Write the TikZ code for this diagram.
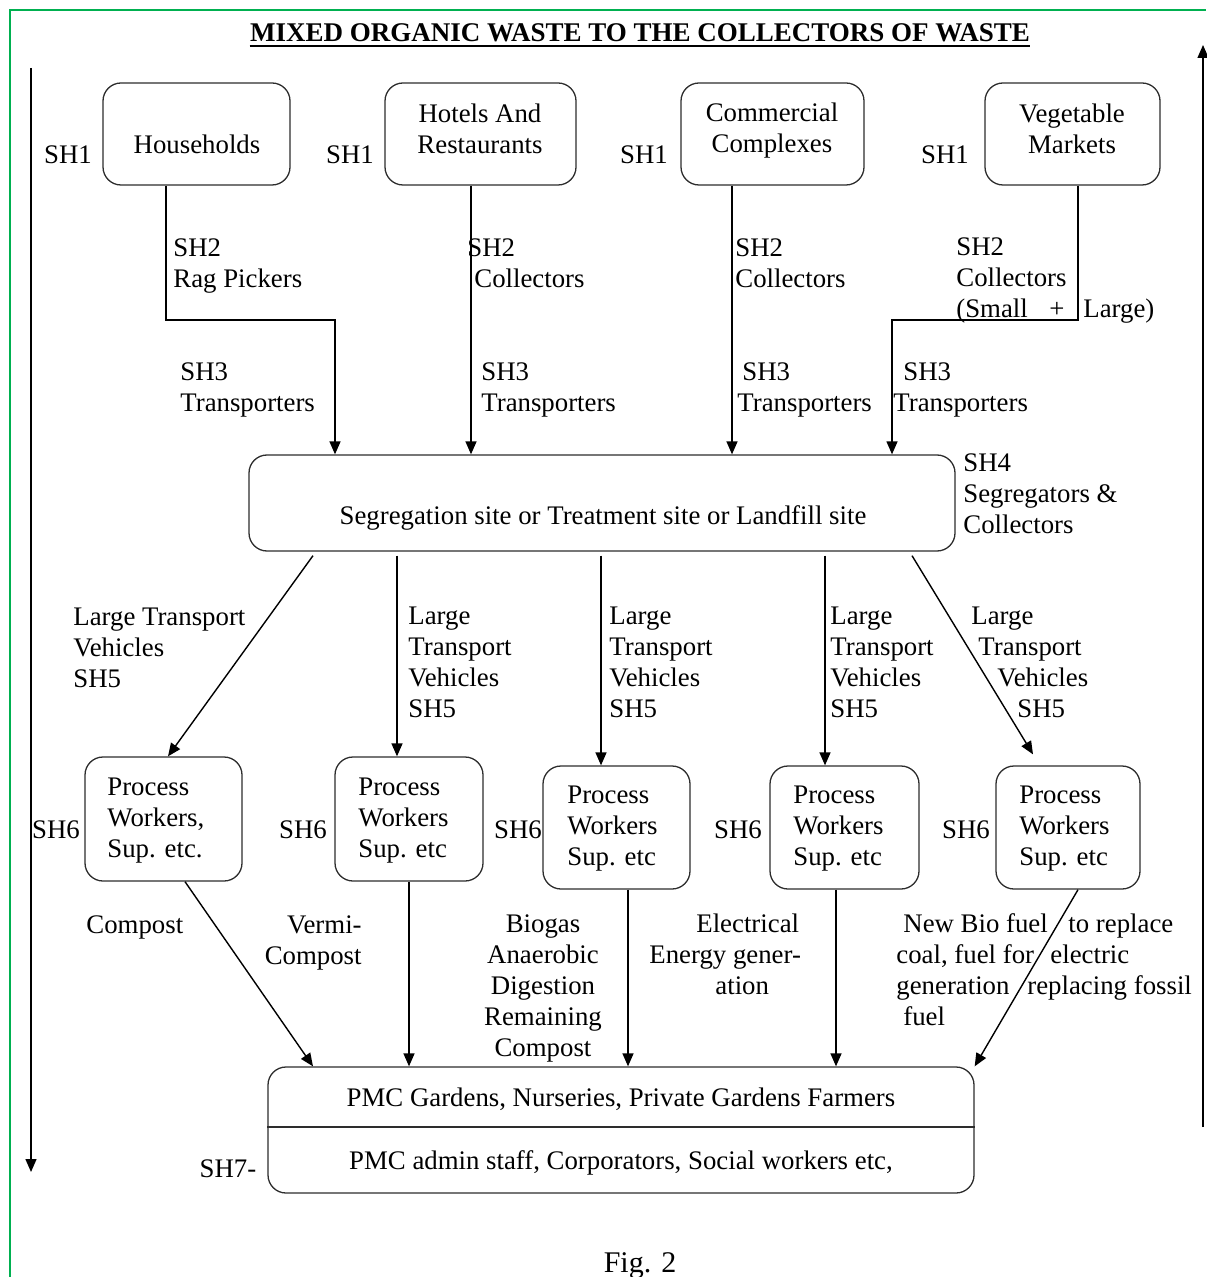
\documentclass[tikz,border=0pt]{standalone}
\usepackage{fontspec}
\setmainfont{Liberation Serif}
\usetikzlibrary{arrows.meta,calc}
\definecolor{frameGreen}{RGB}{0,176,80}
\definecolor{boxLine}{RGB}{45,45,45}
\begin{document}
\begin{tikzpicture}[x=0.5pt,y=-0.5pt,
  every node/.append style={font=\fontsize{13.4pt}{15.5pt}\selectfont},
  box/.style={draw=boxLine, line width=0.65pt, rounded corners=9pt, inner sep=0pt},
  arr/.style={-{Triangle[length=6.5pt,width=5.5pt]}, line width=0.7pt},
  txt/.style={inner sep=0pt, align=left, anchor=west},
  ctxt/.style={inner sep=0pt, align=center}]
\useasboundingbox (0,0) rectangle (1206,1277);
% green frame
\draw[frameGreen, line width=1pt] (10,1277) -- (10,10) -- (1206,10);
% title
\node[font=\fontsize{13.5pt}{15.5pt}\selectfont\bfseries, inner sep=0pt, anchor=base] (title) at (640,42) {MIXED ORGANIC WASTE TO THE COLLECTORS OF WASTE};
\draw[line width=1pt] ([yshift=-2pt]title.base west) -- ([yshift=-2pt]title.base east);
% side arrows
\coordinate (la) at (31,68);
\coordinate (lb) at (31,1172);
\draw[arr] (la) -- (lb);
\coordinate (ra) at (1203,1127);
\coordinate (rb) at (1203,45);
\draw[arr] (ra) -- (rb);
% top boxes
\node[box, minimum width=93.5pt, minimum height=51pt] (hh) at (196.5,134) {};
\node[box, minimum width=95.5pt, minimum height=51pt] (ho) at (480.5,134) {};
\node[box, minimum width=91.5pt, minimum height=51pt] (cc) at (772.5,134) {};
\node[box, minimum width=87.5pt, minimum height=51pt] (vm) at (1072.5,134) {};
\node[ctxt] (hht) at (197,144) {Households};
\node[ctxt] (hot) at (480,128.5) {Hotels And\\Restaurants};
\node[ctxt] (cct) at (772,130.5) {Commercial\\Complexes};
\node[ctxt] (vmt) at (1072,128.5) {Vegetable\\Markets};
\node[ctxt] (sh1a) at (68,155) {SH1};
\node[ctxt] (sh1b) at (350,155) {SH1};
\node[ctxt] (sh1c) at (644,155) {SH1};
\node[ctxt] (sh1d) at (945,155) {SH1};
% segregation box
\node[box, minimum width=353pt, minimum height=48pt] (seg) at (602,503) {};
\node[ctxt] (segt) at (603,518) {Segregation site or Treatment site or Landfill site};
\node[txt] (sh4) at (963,493.5) {SH4\\Segregators \&\\Collectors};
% connectors top
\draw[arr] ([xshift=-15.25pt]hh.south) |- (335,320) -- ([xshift=-133.5pt]seg.north);
\draw[arr] ([xshift=-4.75pt]ho.south) -- ([xshift=-65.5pt]seg.north);
\draw[arr] ([xshift=-20.25pt]cc.south) -- ([xshift=65pt]seg.north);
\draw[arr] ([xshift=2.75pt]vm.south) |- (892,320) -- ([xshift=145pt]seg.north);
% SH2 labels
\node[txt] (sh2a) at (173,266) {SH2\\Rag Pickers};
\node[txt] (sh2b) at (467,263.5) {SH2\\\hspace*{3.5pt}Collectors};
\node[txt] (sh2c) at (735,263.5) {SH2\\Collectors};
\node[txt] (sh2d) at (956,280.5) {SH2\\Collectors\\\makebox[46.5pt][l]{(Small}\makebox[17pt][l]{+}Large)};
% SH3 labels
\node[txt] (sh3a) at (180,389.5) {SH3\\Transporters};
\node[txt] (sh3b) at (481,389.5) {SH3\\Transporters};
\node[txt] (sh3c) at (737,389.5) {\hspace*{2.5pt}SH3\\Transporters};
\node[txt] (sh3d) at (893,389.5) {\hspace*{5pt}SH3\\Transporters};
% process boxes
\node[box, minimum width=78.5pt, minimum height=62pt] (p1) at (163.5,819) {};
\node[box, minimum width=74pt, minimum height=62pt] (p2) at (409,819) {};
\node[box, minimum width=73.5pt, minimum height=61.5pt] (p3) at (616.5,827.5) {};
\node[box, minimum width=74.5pt, minimum height=61.5pt] (p4) at (844.5,827.5) {};
\node[box, minimum width=72pt, minimum height=61.5pt] (p5) at (1068,827.5) {};
\node[txt] (p1t) at (107,821) {Process\\Workers,\\Sup. etc.};
\node[txt] (p2t) at (358,821) {Process\\Workers\\Sup. etc};
\node[txt] (p3t) at (567,829) {Process\\Workers\\Sup. etc};
\node[txt] (p4t) at (793,829) {Process\\Workers\\Sup. etc};
\node[txt] (p5t) at (1019,829) {Process\\Workers\\Sup. etc};
\node[ctxt] (sh6a) at (56,830) {SH6};
\node[ctxt] (sh6b) at (303,830) {SH6};
\node[ctxt] (sh6c) at (518,830) {SH6};
\node[ctxt] (sh6d) at (738,830) {SH6};
\node[ctxt] (sh6e) at (966,830) {SH6};
% seg to process
\draw[arr] ([xshift=-144.5pt,yshift=-2pt]seg.south) -- ([xshift=2.25pt]p1.north);
\draw[arr] ([xshift=-102.5pt,yshift=-2pt]seg.south) -- ([xshift=-6pt]p2.north);
\draw[arr] ([xshift=-0.5pt,yshift=-2pt]seg.south) -- ([xshift=-7.75pt]p3.north);
\draw[arr] ([xshift=111.5pt,yshift=-2pt]seg.south) -- ([xshift=-9.75pt]p4.north);
\draw[arr] ([xshift=155pt,yshift=-2pt]seg.south) -- ([xshift=-17.5pt,yshift=5.5pt]p5.north);
% SH5 labels
\node[txt] (sh5a) at (73,647.5) {Large Transport\\Vehicles\\SH5};
\node[txt] (sh5b) at (408,662.5) {Large\\Transport\\Vehicles\\SH5};
\node[txt] (sh5c) at (609,662.5) {Large\\Transport\\Vehicles\\SH5};
\node[txt] (sh5d) at (830,662.5) {Large\\Transport\\Vehicles\\SH5};
\node[txt] (sh5e) at (971,662.5) {Large\\\hspace*{3.5pt}Transport\\\hspace*{13pt}Vehicles\\\hspace*{23pt}SH5};
% bottom box
\node[box, minimum width=353pt, minimum height=63pt] (pmc) at (621,1130) {};
\draw[draw=boxLine, line width=0.9pt] ([yshift=1.5pt]pmc.west) -- ([yshift=1.5pt]pmc.east);
\node[ctxt] (pmc1) at (621,1099) {PMC Gardens, Nurseries, Private Gardens Farmers};
\node[ctxt] (pmc2) at (621,1163) {PMC admin staff, Corporators, Social workers etc,};
\node[ctxt] (sh7) at (228,1169) {SH7-};
% process to pmc
\draw[arr] ([xshift=10.75pt]p1.south) -- ([xshift=-154pt]pmc.north);
\draw[arr] (p2.south) -- ([xshift=-106pt]pmc.north);
\draw[arr] ([xshift=5.75pt]p3.south) -- ([xshift=3.5pt]pmc.north);
\draw[arr] ([xshift=-4.25pt]p4.south) -- ([xshift=107.5pt]pmc.north);
\draw[arr] ([xshift=5pt]p5.south) -- (pmc.north east);
% product labels
\node[txt] (l1) at (86,927) {Compost};
\node[inner sep=0pt, align=right, anchor=east] (l2) at (362,942.5) {Vermi-\\Compost};
\node[ctxt] (l3) at (543,988) {Biogas\\Anaerobic\\Digestion\\Remaining\\Compost};
\node[txt] (l4) at (649,954.5) {\hspace*{23.5pt}Electrical\\Energy gener-\\\hspace*{33pt}ation};
\node[txt] (l5) at (896,970) {\hspace*{3.5pt}\makebox[82.5pt][l]{New Bio fuel}to replace\\\makebox[77pt][l]{coal, fuel for}electric\\\makebox[65.5pt][l]{generation}replacing fossil\\\hspace*{3.5pt}fuel};
% caption
\node[font=\fontsize{15pt}{18pt}\selectfont, inner sep=0pt] (fig) at (640,1266) {Fig. 2};
\end{tikzpicture}
\end{document}
